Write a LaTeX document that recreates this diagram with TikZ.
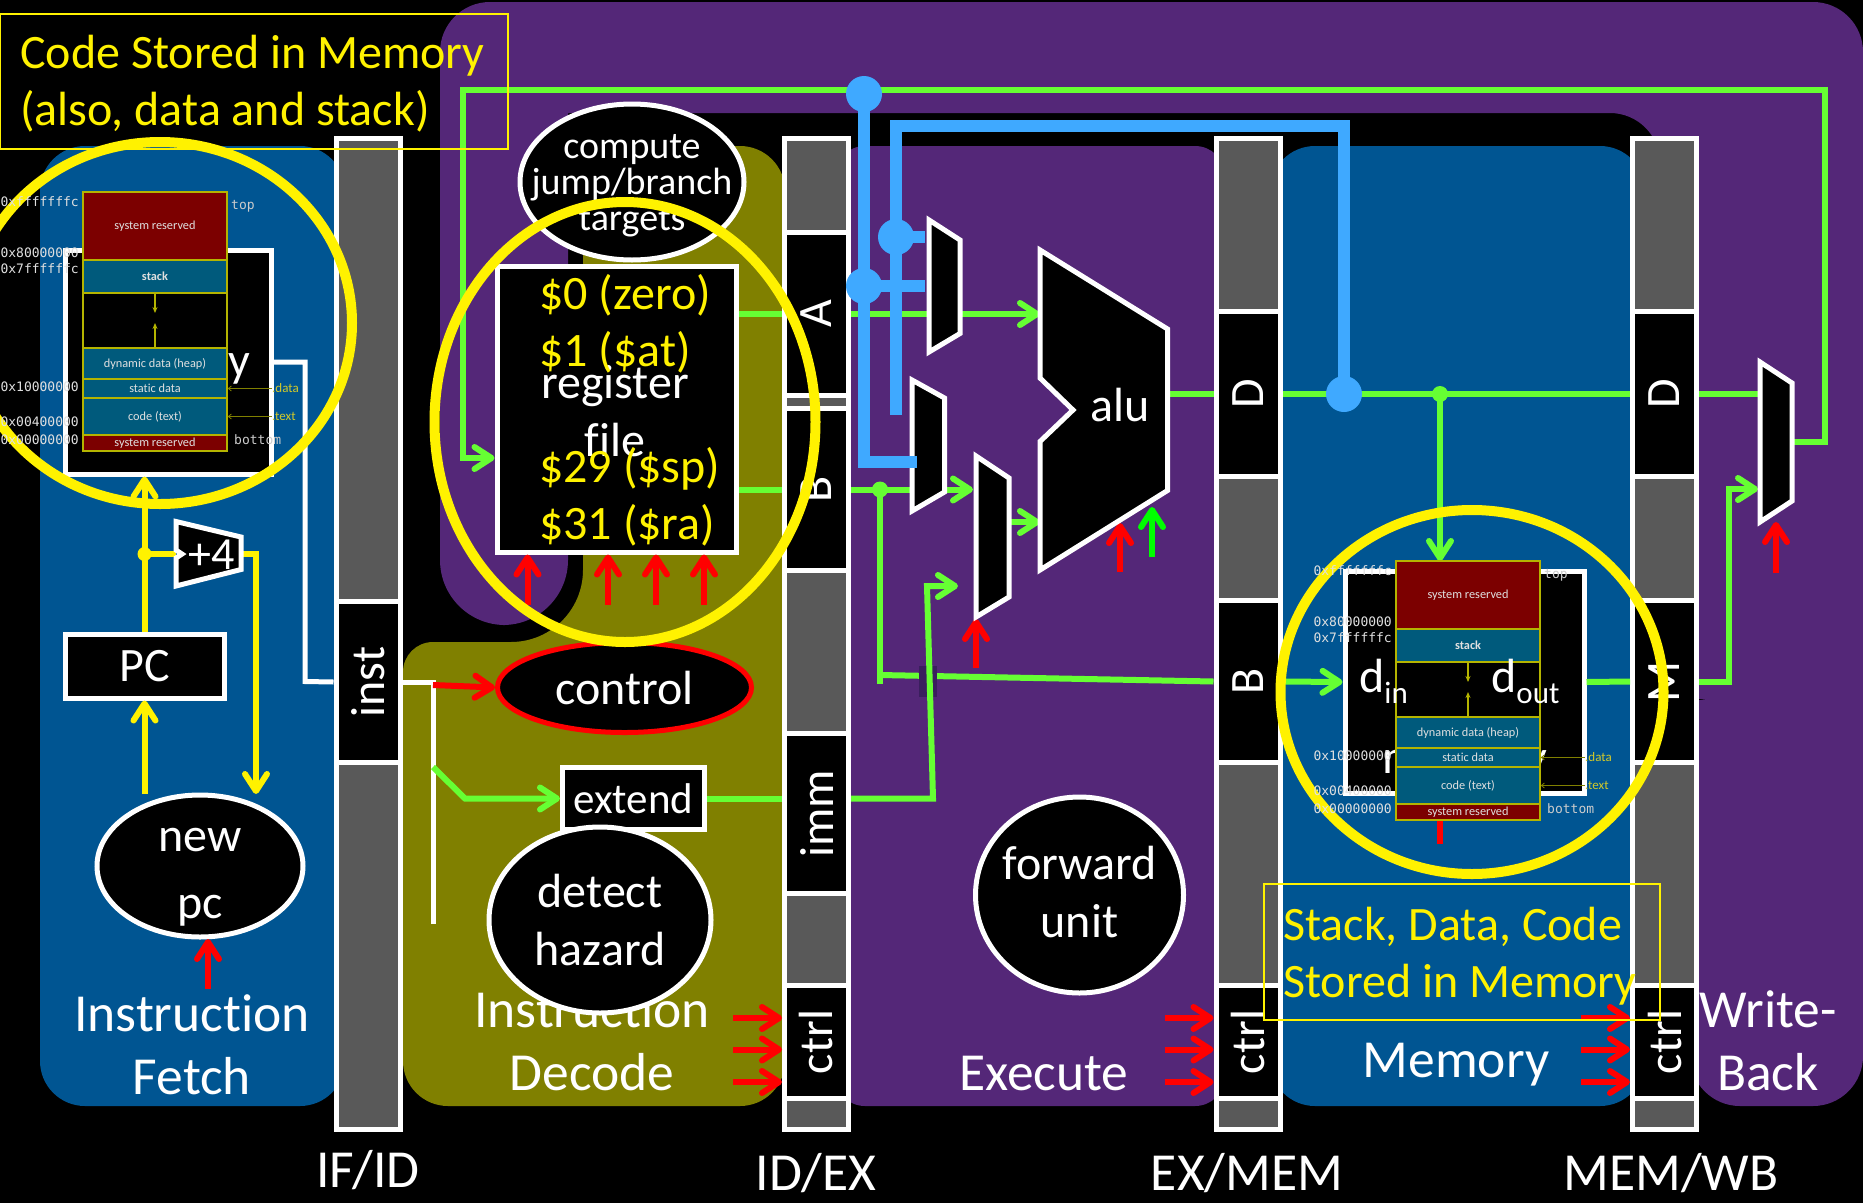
\documentclass[tikz,border=0pt]{standalone}
\usepackage{fontspec}
\setmainfont[Ligatures=NoCommon]{Carlito}
\setmonofont{DejaVu Sans Mono}
\usetikzlibrary{shapes.geometric, arrows.meta}
\definecolor{purplebg}{HTML}{542778}
\definecolor{bluebg}{HTML}{005592}
\definecolor{olivebg}{HTML}{808000}
\definecolor{regray}{HTML}{595959}
\definecolor{wiregreen}{HTML}{66FF33}
\definecolor{wireblue}{HTML}{3FA9FF}
\definecolor{segteal}{HTML}{005A7C}
\definecolor{segred}{HTML}{7C0000}
\definecolor{segline}{HTML}{B4B400}
\definecolor{markdark}{HTML}{3A1F5E}
\tikzset{
  regbar/.style={draw=white, fill=regray, line width=5pt, minimum width=64pt, minimum height=991pt, inner sep=0pt},
  cell/.style={draw=white, fill=black, text=white, line width=5pt, rotate=90, minimum height=64pt, inner sep=0pt, font=\fontsize{48}{48}\selectfont},
  unitbox/.style={draw=white, fill=black, text=white, line width=5pt, inner sep=0pt, font=\fontsize{48}{48}\selectfont},
  unitoval/.style={unitbox, ellipse},
  ovaltext/.style={text=white, align=center, inner sep=0pt, font=\fontsize{48}{58}\selectfont},
  stagetext/.style={text=white, align=center, inner sep=0pt, font=\fontsize{53.5}{63}\selectfont},
  regtext/.style={text=yellow, anchor=base west, inner sep=0pt, font=\fontsize{48}{48}\selectfont},
  notetext/.style={text=yellow, anchor=base west, inner sep=0pt, font=\fontsize{48}{48}\selectfont},
  notebox/.style={draw=yellow, line width=1.5pt},
  ring/.style={ellipse, draw=yellow, line width=10pt, inner sep=0pt},
  mux/.style={draw=white, fill=black, line width=5pt},
  barb/.style={-{Straight Barb[length=17pt, width=22pt, round]}},
  greenwire/.style={draw=wiregreen, line width=6pt},
  greenarrow/.style={greenwire, barb},
  yellowwire/.style={draw=yellow, line width=6pt},
  yellowarrow/.style={yellowwire, barb},
  whitewire/.style={draw=white, line width=5pt},
  bluewire/.style={draw=wireblue, line width=12pt},
  redarrow/.style={draw=red, line width=6pt, barb},
  greendot/.style={circle, fill=wiregreen, minimum size=16pt, inner sep=0pt},
  yellowdot/.style={circle, fill=yellow, minimum size=14pt, inner sep=0pt},
  bluedot/.style={circle, fill=wireblue, minimum size=36pt, inner sep=0pt},
  seg/.style={draw=segline, line width=1.5pt, fill=segteal, text=white!88!black, minimum width=144pt, inner sep=0pt, font=\fontsize{12.3}{13}\selectfont},
  addr/.style={text=white!88!black, inner sep=0pt, font=\ttfamily\fontsize{13}{13}\selectfont},
  segtag/.style={text=white!80!black, inner sep=0pt, font=\ttfamily\fontsize{13}{13}\selectfont},
  datatag/.style={text=yellow!80!black, anchor=west, inner sep=0pt, font=\fontsize{13}{13}\selectfont},
  mapline/.style={draw=olivebg, line width=0.8pt, -{Straight Barb[length=3pt, width=5pt]}},
  gapline/.style={draw=segline, line width=1.5pt, -{Stealth[length=6pt, width=5pt]}},
  memmap/.pic={
    \node[seg, fill=segred, minimum height=68pt] (-sysa) at (72,34) {system reserved};
    \node[seg, minimum height=33pt, font=\bfseries\fontsize{12.3}{13}\selectfont] (-stack) at (72,84.5) {stack};
    \node[seg, fill=black, minimum height=55pt] (-gap) at (72,128.5) {};
    \node[seg, minimum height=31pt] (-heap) at (72,171.5) {dynamic data (heap)};
    \node[seg, minimum height=19pt] (-static) at (72,196.5) {static data};
    \node[seg, minimum height=37pt] (-code) at (72,224.5) {code (text)};
    \node[seg, fill=segred, minimum height=16pt] (-sysb) at (72,251) {system reserved};
    \coordinate (-stacktip) at (72,121);
    \coordinate (-heaptip) at (72,131);
    \draw[gapline] (-stack.south) -- (-stacktip);
    \draw[gapline] (-heap.north) -- (-heaptip);
    \node[addr, anchor=east] (-adra) at (-4,10) {0xfffffffc};
    \node[addr, anchor=east] (-adrb) at (-4,61) {0x80000000};
    \node[addr, anchor=east] (-adrc) at (-4,76.5) {0x7ffffffc};
    \node[addr, anchor=east] (-adrd) at (-4,195) {0x10000000};
    \node[addr, anchor=east] (-adre) at (-4,229.5) {0x00400000};
    \node[addr, anchor=east] (-adrf) at (-4,248) {0x00000000};
    \node[segtag, anchor=west] (-top) at (148,14) {top};
    \node[segtag, anchor=west] (-bottom) at (151,248) {bottom};
    \node[datatag] (-datatag) at (189,196.5) {.data};
    \node[datatag] (-texttag) at (189,224.5) {.text};
    \draw[mapline] (-datatag) -- (-static);
    \draw[mapline] (-texttag) -- (-code);
  }
}
\begin{document}
\begin{tikzpicture}[x=1pt,y=-1pt]
\useasboundingbox (0,0) rectangle (1863,1203);
\fill[black] (0,0) rectangle (1863,1203);
\fill[purplebg, rounded corners=50pt] (440,300) -- (440,2) -- (1863,2) -- (1863,1106) -- (1690,1106) -- (1690,700) -- (1660,700) -- (1660,113) [sharp corners] -- (568,113) [rounded corners=65pt] -- (568,625) -- (440,625) -- cycle;
\fill[bluebg, rounded corners=45pt] (40,146) rectangle (345,1106);
\fill[olivebg, rounded corners=30pt] (403,900) -- (403,642) [rounded corners=72pt] -- (583,642) [rounded corners=45pt] -- (583,146) -- (785,146) -- (785,1106) -- (403,1106) -- cycle;
\fill[purplebg, rounded corners=30pt] (835,146) rectangle (1225,1106);
\fill[bluebg, rounded corners=45pt] (1270,146) rectangle (1645,1106);

\node[regbar] (ifid) at (368,633.5) {};
\node[regbar] (idex) at (816.5,633.5) {};
\node[regbar] (exmem) at (1248,633.5) {};
\node[regbar] (memwb) at (1664.5,633.5) {};
\node[cell, minimum width=161pt] (inst) at (368,682) {inst};
\node[cell, minimum width=163pt] (cellA) at (816.5,314) {A};
\node[cell, minimum width=162pt] (cellB) at (816.5,489.5) {B};
\node[cell, minimum width=160pt] (cellImm) at (816.5,813.5) {imm};
\node[cell, minimum width=113pt] (ctrlA) at (816.5,1042) {ctrl};
\node[cell, minimum width=165pt] (exD) at (1248,394) {D};
\node[cell, minimum width=162pt] (exB) at (1248,681.5) {B};
\node[cell, minimum width=113pt] (ctrlB) at (1248,1042) {ctrl};
\node[cell, minimum width=165pt] (wbD) at (1664.5,394) {D};
\node[cell, minimum width=162pt] (wbM) at (1664.5,681.5) {M};
\node[cell, minimum width=113pt] (ctrlC) at (1664.5,1042) {ctrl};

\node[stagetext] (iflabel) at (192,1045) {Instruction\\Fetch};
\node[stagetext] (idlabel) at (592,1041) {Instruction\\Decode};
\node[stagetext] (exlabel) at (1044,1074) {Execute};
\node[stagetext] (memlabel) at (1456,1065) {Memory};
\node[stagetext] (wblabel) at (1768,1041) {Write-\\Back};
\node[stagetext] (ifidlabel) at (368,1170) {IF/ID};
\node[stagetext] (idexlabel) at (816,1173) {ID/EX};
\node[stagetext] (exmemlabel) at (1247,1173) {EX/MEM};
\node[stagetext] (memwblabel) at (1671,1173) {MEM/WB};

\node[unitoval, minimum width=224pt, minimum height=156pt, label={[ovaltext, font=\fontsize{38}{36}\selectfont, yshift=-4pt]center:compute\\jump/branch\\targets}] (branch) at (632,182) {};
\node[unitbox, minimum width=239pt, minimum height=286pt] (regfile) at (616.5,409) {};
\node[ovaltext] (regname) at (615,411) {register\\file};
\node[regtext] (rega) at (539,309) {\$0 (zero)};
\node[regtext] (regb) at (539,366) {\$1 (\$at)};
\node[regtext] (regc) at (539,482) {\$29 (\$sp)};
\node[regtext] (regd) at (539,539) {\$31 (\$ra)};

\node[unitoval, draw=red, minimum width=254pt, minimum height=90pt, label={[ovaltext]center:control}] (control) at (624.5,687.5) {};
\node[unitbox, minimum width=142pt, minimum height=62pt, font=\fontsize{43}{43}\selectfont] (extend) at (633.5,798.5) {extend};
\node[unitoval, minimum width=222pt, minimum height=186pt, label={[ovaltext]center:detect\\hazard}] (hazard) at (600,920) {};
\node[unitoval, minimum width=208pt, minimum height=196pt, label={[ovaltext, yshift=3.5pt]center:forward\\unit}] (forward) at (1079.5,895) {};

\node[unitbox, minimum width=159pt, minimum height=64pt, text depth=-2pt] (pc) at (144.5,666) {PC};
\node[unitoval, minimum width=206pt, minimum height=142pt, label={[ovaltext, font=\fontsize{48}{67}\selectfont, yshift=-11pt]center:new\\pc}] (newpc) at (200,866) {};
\node[unitbox, minimum width=206pt, minimum height=224pt] (imem) at (168,362) {};
\node[text=white, anchor=base, inner sep=0pt, font=\fontsize{48}{48}\selectfont] (imemname) at (168,376) {memory};
\node[unitbox, minimum width=239pt, minimum height=222pt] (dmem) at (1464.5,682) {};
\node[text=white, anchor=base, inner sep=0pt, font=\fontsize{48}{48}\selectfont] (dmemname) at (1464.5,773) {memory};

\coordinate (aluA) at (1040,314);
\coordinate (aluB) at (1040,522);
\coordinate (aluOut) at (1167,394);
\coordinate (aluRed) at (1120,523);
\coordinate (aluRedEnd) at (1120,572);
\coordinate (aluGreen) at (1152,507);
\coordinate (aluGreenEnd) at (1152,557);
\coordinate (muxcA) at (973,489.5);
\coordinate (muxcB) at (958,586);
\coordinate (muxcOut) at (1009,522);
\coordinate (muxcRed) at (976,619);
\coordinate (muxcRedEnd) at (976,668);
\coordinate (muxwA) at (1760,394);
\coordinate (muxwB) at (1758,489);
\coordinate (muxwOut) at (1792,442);
\coordinate (muxwRed) at (1776,522);
\coordinate (muxwRedEnd) at (1776,573);
\coordinate (addIn) at (176,554);
\coordinate (addOut) at (241,554);
\coordinate (memIn) at (1440,561);
\coordinate (memRedEnd) at (1440,844);
\coordinate (memRed) at (1440,810);
\coordinate (newpcTop) at (143,794);
\coordinate (newpcIn) at (256,794);
\coordinate (newpcRed) at (208,939);
\coordinate (newpcRedEnd) at (208,989);
\coordinate (bluetipA) at (896,415);
\coordinate (bluetipB) at (917,462);
\coordinate (bluetipC) at (925,237);
\coordinate (bluetipD) at (925,286);

\draw[whitewire] (imem.east |- 0,362) -- (305,362) -- (305,681.5) -- (inst.north);
\draw[whitewire] (inst.south) -- (433,682) -- (433,924);
\draw[greenwire] (regfile.east |- cellA) -- (cellA.north);
\draw[greenarrow] (cellA.south) -- (aluA);
\draw[greenwire] (regfile.east |- cellB) -- (cellB.north);
\draw[greenarrow] (cellB.south) -- (muxcA);
\node[greendot] (tapB) at (880,489.5) {};
\draw[greenwire] (tapB.center) -- (880,684);
\draw[greenwire] (880,675) -- (exB.north);
\fill[markdark] (919,666) rectangle (937,697);
\draw[greenwire] (extend.east) -- (cellImm.north |- extend);
\draw[greenarrow] (cellImm.south |- extend) -- (933,798.5) -- (927,586) -- (muxcB);
\draw[greenarrow] (muxcOut) -- (aluB);
\draw[greenwire] (aluOut) -- (exD.north);
\draw[greenwire] (exD.south) -- (wbD.north);
\draw[greenwire] (wbD.south) -- (muxwA);
\node[greendot] (tapD) at (1440,394) {};
\draw[greenarrow] (tapD.center) -- (memIn);
\draw[greenarrow] (exB.south) -- (dmem.west);
\draw[greenwire] (dmem.east) -- (wbM.north);
\draw[greenarrow] (wbM.south) -- (1729,681.5) -- (1729,489) -- (muxwB);
\draw[greenarrow] (muxwOut) -- (1825,442) -- (1825,90) -- (463,90) -- (463,458) -- (regfile.west |- 0,458);
\draw[greenarrow] (433,767) -- (465,798.5) -- (extend.west);
\draw[redarrow] (433,685) -- (control.west);
\draw[redarrow] ([shift={(-89,50)}]regfile.south) -- ([shift={(-89,0)}]regfile.south);
\draw[redarrow] ([shift={(-8.5,50)}]regfile.south) -- ([shift={(-8.5,0)}]regfile.south);
\draw[redarrow] ([shift={(39.5,50)}]regfile.south) -- ([shift={(39.5,0)}]regfile.south);
\draw[redarrow] ([shift={(87.5,50)}]regfile.south) -- ([shift={(87.5,0)}]regfile.south);
\draw[redarrow] ([shift={(-49,-24)}]ctrlA.north) -- ([shift={(0,-24)}]ctrlA.north);
\draw[redarrow] ([shift={(-49,7.5)}]ctrlA.north) -- ([shift={(0,7.5)}]ctrlA.north);
\draw[redarrow] ([shift={(-49,40)}]ctrlA.north) -- ([shift={(0,40)}]ctrlA.north);
\draw[redarrow] ([shift={(-49,-24)}]ctrlB.north) -- ([shift={(0,-24)}]ctrlB.north);
\draw[redarrow] ([shift={(-49,7.5)}]ctrlB.north) -- ([shift={(0,7.5)}]ctrlB.north);
\draw[redarrow] ([shift={(-49,40)}]ctrlB.north) -- ([shift={(0,40)}]ctrlB.north);
\draw[redarrow] ([shift={(-49,-24)}]ctrlC.north) -- ([shift={(0,-24)}]ctrlC.north);
\draw[redarrow] ([shift={(-49,7.5)}]ctrlC.north) -- ([shift={(0,7.5)}]ctrlC.north);
\draw[redarrow] ([shift={(-49,40)}]ctrlC.north) -- ([shift={(0,40)}]ctrlC.north);
\draw[redarrow] (aluRedEnd) -- (aluRed);
\draw[redarrow, draw=green] (aluGreenEnd) -- (aluGreen);
\draw[redarrow] (muxcRedEnd) -- (muxcRed);
\draw[redarrow] (muxwRedEnd) -- (muxwRed);
\draw[redarrow] (newpcRedEnd) -- (newpcRed);
\draw[draw=red, line width=6pt] (memRed) -- (memRedEnd);

\draw[yellowarrow] (pc.north) -- (pc.north |- imem.south);
\draw[yellowarrow] (pc.south |- newpcTop) -- (pc.south);
\node[yellowdot] (tapPc) at (144.5,554) {};
\draw[yellowwire] (tapPc.center) -- (addIn);
\draw[yellowarrow] (addOut) -- (256,554) -- (newpcIn);

\draw[mux] (929,220) -- (960,240) -- (960,333.5) -- (929,352) -- cycle;
\draw[mux] (912,380) -- (944.5,398) -- (944.5,492) -- (912,511) -- cycle;
\draw[mux] (976,456) -- (1009,478) -- (1009,597) -- (976,617) -- cycle;
\draw[mux] (1760,362) -- (1792,383) -- (1792,501) -- (1760,522) -- cycle;
\draw[mux] (1040,250) -- (1167.5,329) -- (1167.5,490.5) -- (1040,570) -- (1040,441.5) -- (1073,410) -- (1040,378) -- cycle;
\draw[mux] (176,521.5) -- (241,537) -- (241,569.5) -- (176,586) -- (176,558) -- (182,554) -- (176,550) -- cycle;
\node[text=white, inner sep=0pt, font=\fontsize{48}{48}\selectfont] (alutext) at (1120,405) {alu};
\node[text=white, inner sep=0pt, font=\fontsize{46}{46}\selectfont] (addtext) at (212,555) {+4};

\node[bluedot] (blueTop) at (864,94) {};
\node[bluedot] (blueSel) at (896,237) {};
\node[bluedot] (blueFwd) at (864,286) {};
\node[bluedot] (blueD) at (1344,394) {};
\draw[bluewire] (blueD.center) -- (1344,126) -- (896,126) -- (bluetipA);
\draw[bluewire] (blueTop.center) -- (864,462) -- (bluetipB);
\draw[bluewire] (blueSel.center) -- (bluetipC);
\draw[bluewire] (blueFwd.center) -- (bluetipD);

\node[ring, minimum width=384pt, minimum height=362pt] (ringimem) at (160,323) {};
\node[ring, minimum width=381pt, minimum height=440pt] (ringreg) at (625,422) {};
\node[ring, minimum width=383pt, minimum height=364pt] (ringdmem) at (1472,692) {};

\pic (mapi) at (83,192) {memmap};
\pic (mapd) at (1396,561) {memmap};
\node[text=white, anchor=base west, inner sep=0pt, font=\fontsize{48}{48}\selectfont] (din) at (1359,692) {d\raisebox{-11pt}{\fontsize{31}{31}\selectfont in}};
\node[text=white, anchor=base west, inner sep=0pt, font=\fontsize{48}{48}\selectfont] (dout) at (1491,692) {d\raisebox{-11pt}{\fontsize{31}{31}\selectfont out}};

\draw[notebox] (0,14) rectangle (508,149);
\node[notetext] (notecode) at (20,68) {Code Stored in Memory};
\node[notetext] (notedata) at (20,125) {(also, data and stack)};
\draw[notebox] (1264,884) rectangle (1660,1020);
\node[notetext] (notestack) at (1283,940) {Stack, Data, Code};
\node[notetext] (notestored) at (1283,997) {Stored in Memory};
\end{tikzpicture}
\end{document}
